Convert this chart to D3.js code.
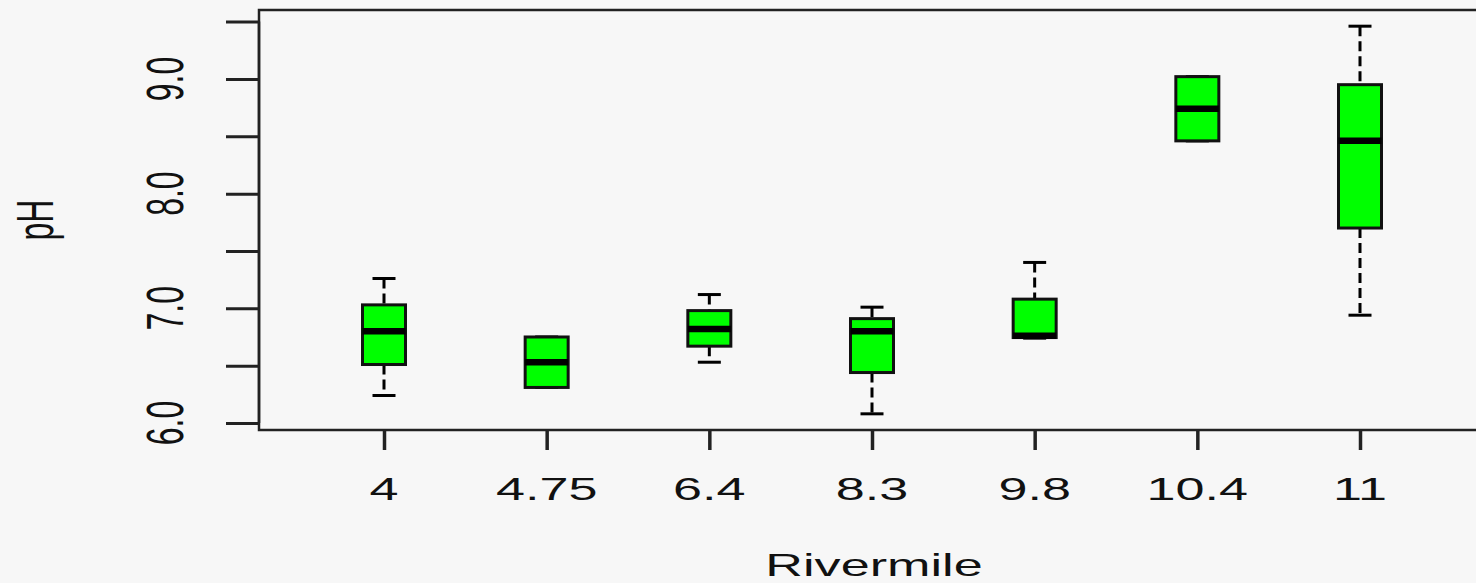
<!DOCTYPE html>
<html>
<head>
<meta charset="utf-8">
<script src="https://cdn.jsdelivr.net/npm/d3@7"></script>
<style>
  html, body { margin: 0; padding: 0; background: #f7f7f7; }
  svg { display: block; }
  text { font-family: "Liberation Sans", Arial, sans-serif; fill: #111; }
</style>
</head>
<body>
<div id="chart"></div>
<script>
const width = 1476;
const height = 583;
const stretch = 1.63;   // the picture is squashed wide, text too

// box stats
const rivermiles = ["4", "4.75", "6.4", "8.3", "9.8", "10.4", "11"];
const whiskerLow = [6.24, 6.31, 6.53, 6.08, 6.74, 8.46, 6.94];
const quart1    = [6.51, 6.31, 6.67, 6.44, 6.745, 8.46, 7.70];
const medians   = [6.80, 6.53, 6.82, 6.80, 6.76, 8.74, 8.46];
const quart3    = [7.03, 6.75, 6.98, 6.91, 7.08, 9.02, 8.95];
const whiskerHigh = [7.26, 6.75, 7.12, 7.01, 7.40, 9.02, 9.46];

const yTicks = [6, 6.5, 7, 7.5, 8, 8.5, 9, 9.5];
const yLabels = [6, 7, 8, 9];

const boxes = rivermiles.map((r, i) => ({
    name: r,
    lo: whiskerLow[i], q1: quart1[i], med: medians[i], q3: quart3[i], hi: whiskerHigh[i]
}));

const plot = { left: 259, top: 10, bottom: 430, right: 1500 };

const svg = d3.select("#chart").append("svg")
    .attr("width", width)
    .attr("height", height);

const x = d3.scalePoint()
    .domain(rivermiles)
    .range([384, 1360]);

const y = d3.scaleLinear()
    .domain([6, 9.5])
    .range([423, 21.6]);

const boxW = 43;
const capW = 23;

// plot frame
svg.append("rect")
    .attr("x", plot.left)
    .attr("y", plot.top)
    .attr("width", plot.right - plot.left)
    .attr("height", plot.bottom - plot.top)
    .attr("fill", "none")
    .attr("stroke", "#222")
    .attr("stroke-width", 2.5);

// y axis ticks
const yAxis = svg.append("g")
    .attr("transform", `translate(${plot.left},0)`)
    .call(d3.axisLeft(y).tickValues(yTicks).tickSize(33).tickFormat(""));
yAxis.select(".domain").attr("stroke", "#222").attr("stroke-width", 2.5)
    .attr("d", `M0,${y(6)}V${y(9.5)}`);
yAxis.selectAll(".tick line").attr("stroke", "#222").attr("stroke-width", 3);

svg.selectAll(".ylab")
    .data(yLabels)
    .enter().append("text")
    .attr("class", "ylab")
    .attr("transform", d => `translate(183,${y(d)}) scale(${stretch},1) rotate(-90)`)
    .attr("text-anchor", "middle")
    .attr("font-size", 32)
    .text(d => d3.format(".1f")(d));

// x axis ticks
const xAxis = svg.append("g")
    .attr("transform", `translate(0,${plot.bottom})`)
    .call(d3.axisBottom(x).tickSize(20).tickFormat(""));
xAxis.select(".domain").remove();
xAxis.selectAll(".tick line").attr("stroke", "#222").attr("stroke-width", 3.5);

svg.selectAll(".xlab")
    .data(rivermiles)
    .enter().append("text")
    .attr("class", "xlab")
    .attr("transform", d => `translate(${x(d)},500) scale(${stretch},1)`)
    .attr("text-anchor", "middle")
    .attr("font-size", 32)
    .text(d => d);

// axis titles
svg.append("text")
    .attr("transform", `translate(874,576) scale(${stretch},1)`)
    .attr("text-anchor", "middle")
    .attr("font-size", 32)
    .text("Rivermile");

svg.append("text")
    .attr("transform", `translate(53,220) scale(${stretch},1) rotate(-90)`)
    .attr("text-anchor", "middle")
    .attr("font-size", 32)
    .text("pH");

// boxes
const g = svg.selectAll(".box")
    .data(boxes)
    .enter().append("g")
    .attr("class", "box")
    .attr("transform", d => `translate(${x(d.name)},0)`);

// whiskers (dashed)
g.append("line")
    .attr("y1", d => y(d.hi)).attr("y2", d => y(d.q3))
    .attr("stroke", "#000").attr("stroke-width", 3)
    .attr("stroke-dasharray", "10,5");
g.append("line")
    .attr("y1", d => y(d.q1)).attr("y2", d => y(d.lo))
    .attr("stroke", "#000").attr("stroke-width", 3)
    .attr("stroke-dasharray", "10,5");

// staples
g.append("line")
    .attr("x1", -capW / 2).attr("x2", capW / 2)
    .attr("y1", d => y(d.hi)).attr("y2", d => y(d.hi))
    .attr("stroke", "#000").attr("stroke-width", 3);
g.append("line")
    .attr("x1", -capW / 2).attr("x2", capW / 2)
    .attr("y1", d => y(d.lo)).attr("y2", d => y(d.lo))
    .attr("stroke", "#000").attr("stroke-width", 3);

g.append("rect")
    .attr("x", -boxW / 2)
    .attr("width", boxW)
    .attr("y", d => y(d.q3))
    .attr("height", d => y(d.q1) - y(d.q3))
    .attr("fill", "#00ff00")
    .attr("stroke", "#111")
    .attr("stroke-width", 3);

g.append("line")
    .attr("x1", -boxW / 2).attr("x2", boxW / 2)
    .attr("y1", d => y(d.med)).attr("y2", d => y(d.med))
    .attr("stroke", "#000").attr("stroke-width", 6.5);
</script>
</body>
</html>
